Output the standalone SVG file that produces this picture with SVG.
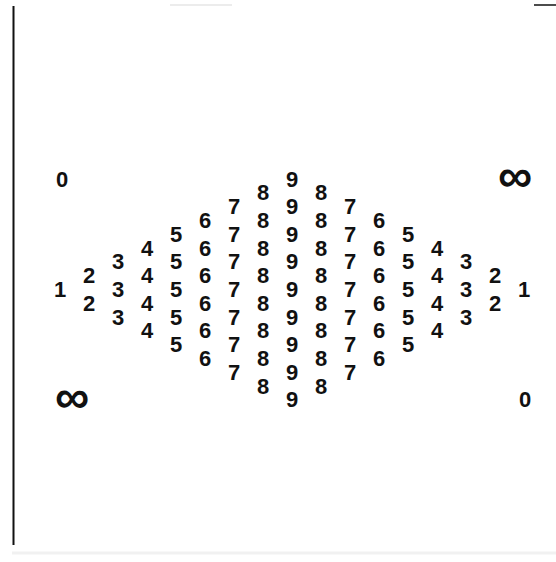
<svg xmlns="http://www.w3.org/2000/svg" width="556" height="562" viewBox="0 0 556 562">
<style>
.n{font-family:"Liberation Sans",Arial,sans-serif;font-size:22px;font-weight:bold;fill:#111;text-anchor:middle}
.inf{font-family:"Liberation Sans",Arial,sans-serif;font-size:48px;font-weight:bold;fill:#111;text-anchor:middle}
.edge{stroke:#111;fill:none}
</style>
<rect width="556" height="562" fill="#fff"/>
<g id="frame">
<line class="edge" x1="13.5" y1="6" x2="13.5" y2="545" stroke-width="2"/>
<line class="edge" x1="534" y1="5" x2="556" y2="5" stroke-width="1.5"/>
<line x1="170" y1="5" x2="232" y2="5" stroke="#e6e6e6" stroke-width="1.5"/>
<line x1="12" y1="553" x2="556" y2="553" stroke="#f1f1f1" stroke-width="3"/>
</g>
<g id="corners">
<text class="n" x="62" y="187">0</text>
<text class="inf" x="515" y="192">∞</text>
<text class="inf" x="72" y="413">∞</text>
<text class="n" x="525" y="407">0</text>
</g>
<g id="col1"><text class="n" x="60" y="297">1</text></g>
<g id="col2"><text class="n" x="89" y="283.2">2</text><text class="n" x="89" y="310.8">2</text></g>
<g id="col3"><text class="n" x="118" y="269.4">3</text><text class="n" x="118" y="297">3</text><text class="n" x="118" y="324.6">3</text></g>
<g id="col4"><text class="n" x="147" y="255.6">4</text><text class="n" x="147" y="283.2">4</text><text class="n" x="147" y="310.8">4</text><text class="n" x="147" y="338.4">4</text></g>
<g id="col5"><text class="n" x="176" y="241.8">5</text><text class="n" x="176" y="269.4">5</text><text class="n" x="176" y="297">5</text><text class="n" x="176" y="324.6">5</text><text class="n" x="176" y="352.2">5</text></g>
<g id="col6"><text class="n" x="205" y="228">6</text><text class="n" x="205" y="255.6">6</text><text class="n" x="205" y="283.2">6</text><text class="n" x="205" y="310.8">6</text><text class="n" x="205" y="338.4">6</text><text class="n" x="205" y="366">6</text></g>
<g id="col7"><text class="n" x="234" y="214.2">7</text><text class="n" x="234" y="241.8">7</text><text class="n" x="234" y="269.4">7</text><text class="n" x="234" y="297">7</text><text class="n" x="234" y="324.6">7</text><text class="n" x="234" y="352.2">7</text><text class="n" x="234" y="379.8">7</text></g>
<g id="col8"><text class="n" x="263" y="200.4">8</text><text class="n" x="263" y="228">8</text><text class="n" x="263" y="255.6">8</text><text class="n" x="263" y="283.2">8</text><text class="n" x="263" y="310.8">8</text><text class="n" x="263" y="338.4">8</text><text class="n" x="263" y="366">8</text><text class="n" x="263" y="393.6">8</text></g>
<g id="col9"><text class="n" x="292" y="186.6">9</text><text class="n" x="292" y="214.2">9</text><text class="n" x="292" y="241.8">9</text><text class="n" x="292" y="269.4">9</text><text class="n" x="292" y="297">9</text><text class="n" x="292" y="324.6">9</text><text class="n" x="292" y="352.2">9</text><text class="n" x="292" y="379.8">9</text><text class="n" x="292" y="407.4">9</text></g>
<g id="col10"><text class="n" x="321" y="200.4">8</text><text class="n" x="321" y="228">8</text><text class="n" x="321" y="255.6">8</text><text class="n" x="321" y="283.2">8</text><text class="n" x="321" y="310.8">8</text><text class="n" x="321" y="338.4">8</text><text class="n" x="321" y="366">8</text><text class="n" x="321" y="393.6">8</text></g>
<g id="col11"><text class="n" x="350" y="214.2">7</text><text class="n" x="350" y="241.8">7</text><text class="n" x="350" y="269.4">7</text><text class="n" x="350" y="297">7</text><text class="n" x="350" y="324.6">7</text><text class="n" x="350" y="352.2">7</text><text class="n" x="350" y="379.8">7</text></g>
<g id="col12"><text class="n" x="379" y="228">6</text><text class="n" x="379" y="255.6">6</text><text class="n" x="379" y="283.2">6</text><text class="n" x="379" y="310.8">6</text><text class="n" x="379" y="338.4">6</text><text class="n" x="379" y="366">6</text></g>
<g id="col13"><text class="n" x="408" y="241.8">5</text><text class="n" x="408" y="269.4">5</text><text class="n" x="408" y="297">5</text><text class="n" x="408" y="324.6">5</text><text class="n" x="408" y="352.2">5</text></g>
<g id="col14"><text class="n" x="437" y="255.6">4</text><text class="n" x="437" y="283.2">4</text><text class="n" x="437" y="310.8">4</text><text class="n" x="437" y="338.4">4</text></g>
<g id="col15"><text class="n" x="466" y="269.4">3</text><text class="n" x="466" y="297">3</text><text class="n" x="466" y="324.6">3</text></g>
<g id="col16"><text class="n" x="495" y="283.2">2</text><text class="n" x="495" y="310.8">2</text></g>
<g id="col17"><text class="n" x="524" y="297">1</text></g>
</svg>
